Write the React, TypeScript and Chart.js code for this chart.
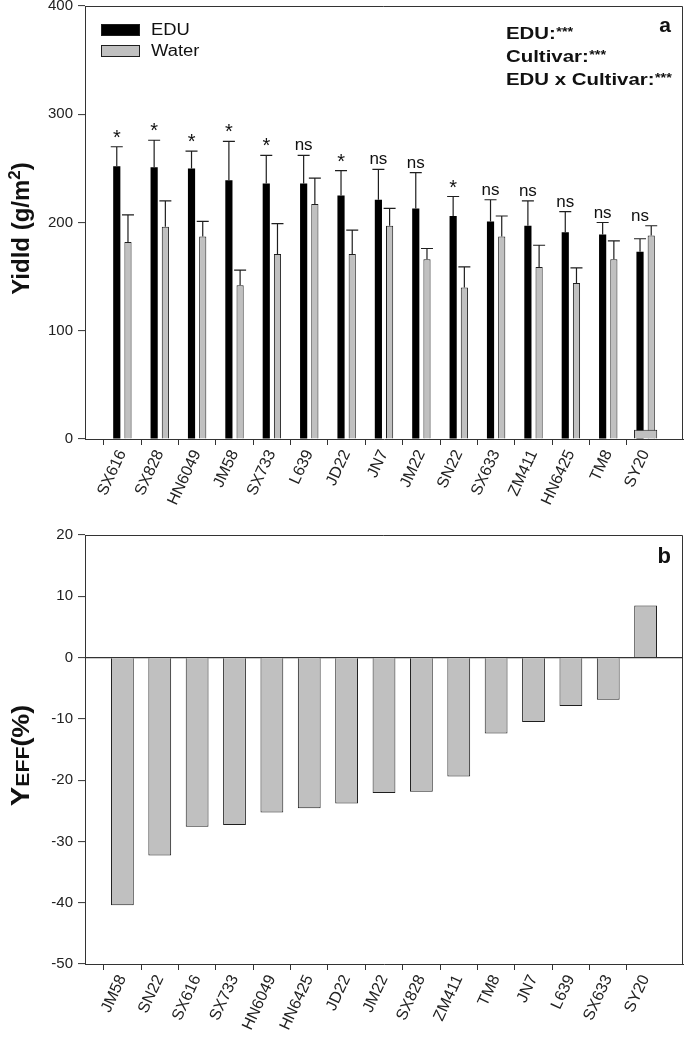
import React, { useEffect, useRef } from 'react';
import { Chart, registerables } from 'chart.js';

Chart.register(...registerables);

// ---------- Data ----------
const cultivarsA = ['SX616', 'SX828', 'HN6049', 'JM58', 'SX733', 'L639', 'JD22', 'JN7', 'JM22', 'SN22', 'SX633', 'ZM411', 'HN6425', 'TM8', 'SY20'];
const eduYield = [252, 251, 250, 239, 236, 236, 225, 221, 213, 206, 201, 197, 191, 189, 173];
const eduErr = [18, 25, 16, 36, 26, 26, 23, 28, 33, 18, 20, 23, 19, 11, 12];
const waterYield = [182, 196, 187, 142, 171, 217, 171, 197, 166, 140, 187, 159, 144, 166, 188];
const waterErr = [25, 24, 14, 14, 28, 24, 22, 16, 10, 19, 19, 20, 14, 17, 9];
const significance = ['*', '*', '*', '*', '*', 'ns', '*', 'ns', 'ns', '*', 'ns', 'ns', 'ns', 'ns', 'ns'];
const boxAtBase = [null, null, null, null, null, null, null, null, null, null, null, null, null, null, 8.5];
const yieldTicks = [0, 100, 200, 300, 400];

const cultivarsB = ['JM58', 'SN22', 'SX616', 'SX733', 'HN6049', 'HN6425', 'JD22', 'JM22', 'SX828', 'ZM411', 'TM8', 'JN7', 'L639', 'SX633', 'SY20'];
const yeff = [-40.4, -32.3, -27.6, -27.3, -25.3, -24.6, -23.8, -22.1, -21.9, -19.4, -12.4, -10.5, -7.9, -6.9, 8.5];
const yeffTicks = [-50, -40, -30, -20, -10, 0, 10, 20];

const annotations = ['EDU:', 'Cultivar:', 'EDU x Cultivar:'];

// ---------- helpers ----------
const FONT = '"Liberation Sans", Arial, Helvetica, sans-serif';
const GRAY = '#c0c0c0';
const INK = '#1e1e1e';
const pad = (arr: any[], fill: any = null) => [fill, ...arr, fill];

const boxPlugin = {
  id: 'boxFrame',
  afterDraw(chart: any) {
    const { ctx, chartArea: a } = chart;
    ctx.save();
    ctx.strokeStyle = '#333';
    ctx.lineWidth = 1;
    ctx.beginPath();
    const t = Math.round(a.top) + 0.5;
    const r = Math.round(a.right) - 0.5;
    ctx.moveTo(Math.round(a.left), t);
    ctx.lineTo(r, t);
    ctx.lineTo(r, Math.round(a.bottom));
    ctx.stroke();
    ctx.restore();
  },
};

function drawRotatedTitle(ctx: any, x: number, midY: number, parts: { t: string; size: number; raise?: number }[], stretch = 1) {
  ctx.save();
  ctx.translate(x, midY);
  ctx.rotate(-Math.PI / 2);
  ctx.scale(stretch, 1);
  let total = 0;
  parts.forEach((p) => {
    ctx.font = `bold ${p.size}px ${FONT}`;
    total += ctx.measureText(p.t).width;
  });
  let cx = -total / 2;
  ctx.fillStyle = '#111';
  ctx.textBaseline = 'alphabetic';
  ctx.textAlign = 'left';
  parts.forEach((p) => {
    ctx.font = `bold ${p.size}px ${FONT}`;
    ctx.fillText(p.t, cx, -(p.raise || 0));
    cx += ctx.measureText(p.t).width;
  });
  ctx.restore();
}

function stretchedText(ctx: any, text: string, x: number, y: number, sx: number) {
  ctx.save();
  ctx.translate(x, y);
  ctx.scale(sx, 1);
  ctx.fillText(text, 0, 0);
  ctx.restore();
}

const topDecorPlugin = {
  id: 'topDecor',
  afterDatasetsDraw(chart: any) {
    const { ctx, chartArea: a } = chart;
    const y = chart.scales.y;
    const edu = chart.getDatasetMeta(0).data;
    const wat = chart.getDatasetMeta(1).data;
    const eErr = pad(eduErr);
    const wErr = pad(waterErr);
    const eVal = chart.data.datasets[0].data;
    const wVal = chart.data.datasets[1].data;
    ctx.save();
    ctx.strokeStyle = INK;
    ctx.lineWidth = 1.2;
    const drawErr = (bar: any, v: number, e: number) => {
      const yt = y.getPixelForValue(v + e);
      const yb = y.getPixelForValue(v);
      ctx.beginPath();
      ctx.moveTo(bar.x, yb);
      ctx.lineTo(bar.x, yt);
      ctx.moveTo(bar.x - 6, yt);
      ctx.lineTo(bar.x + 6, yt);
      ctx.stroke();
      return yt;
    };
    const sig = pad(significance, '');
    for (let i = 0; i < eVal.length; i++) {
      if (eVal[i] == null) continue;
      const t1 = drawErr(edu[i], eVal[i], eErr[i]);
      const t2 = drawErr(wat[i], wVal[i], wErr[i]);
      const top = Math.min(t1, t2);
      ctx.fillStyle = '#111';
      ctx.textAlign = 'center';
      ctx.textBaseline = 'alphabetic';
      if (sig[i] === '*') {
        ctx.font = `20px ${FONT}`;
        ctx.fillText('*', edu[i].x, top - 3);
      } else {
        ctx.font = `17px ${FONT}`;
        ctx.fillText(sig[i], edu[i].x, top - 5);
      }
    }
    // legend
    const lx = a.left + 16;
    const items = [chart.data.datasets[0], chart.data.datasets[1]];
    items.forEach((ds: any, k: number) => {
      const by = a.top + 18 + k * 21;
      ctx.fillStyle = ds.backgroundColor;
      ctx.fillRect(lx, by, 39, 12);
      ctx.strokeStyle = INK;
      ctx.lineWidth = 1;
      ctx.strokeRect(lx + 0.5, by + 0.5, 38, 11);
      ctx.fillStyle = '#111';
      ctx.font = `16px ${FONT}`;
      ctx.textAlign = 'left';
      ctx.textBaseline = 'middle';
      stretchedText(ctx, ds.label, lx + 50, by + 6.5, 1.15);
    });
    // annotations
    ctx.textBaseline = 'alphabetic';
    ctx.textAlign = 'left';
    annotations.forEach((s, k) => {
      const bx = a.left + 421;
      const base = a.top + 33 + k * 23;
      const sx = 1.2;
      ctx.font = `bold 17px ${FONT}`;
      ctx.fillStyle = '#111';
      stretchedText(ctx, s, bx, base, sx);
      const w = ctx.measureText(s).width * sx;
      ctx.font = `bold 12px ${FONT}`;
      stretchedText(ctx, '***', bx + w + 0.5, base - 3, sx);
    });
    ctx.font = `bold 21px ${FONT}`;
    ctx.textAlign = 'right';
    ctx.fillText('a', a.right - 12, a.top + 26);
    ctx.restore();
    drawRotatedTitle(ctx, 29, (a.top + a.bottom) / 2 + 6, [
      { t: 'Yidld (g/m', size: 24 },
      { t: '2', size: 17, raise: 9 },
      { t: ')', size: 24 },
    ]);
  },
};

const bottomDecorPlugin = {
  id: 'bottomDecor',
  afterDatasetsDraw(chart: any) {
    const { ctx, chartArea: a } = chart;
    ctx.save();
    ctx.font = `bold 22px ${FONT}`;
    ctx.fillStyle = '#111';
    ctx.textAlign = 'right';
    ctx.textBaseline = 'alphabetic';
    ctx.fillText('b', a.right - 12, a.top + 28);
    ctx.restore();
    drawRotatedTitle(ctx, 29, (a.top + a.bottom) / 2 + 6, [
      { t: 'Y', size: 26 },
      { t: 'EFF', size: 19 },
      { t: '(%)', size: 24 },
    ], 1.12);
  },
};

const tickFont = { size: 15, family: FONT };
const xTickFont = { size: 16, family: FONT };

function makeXScale(height: number) {
  return {
    type: 'category' as const,
    offset: false,
    grid: {
      display: true,
      drawOnChartArea: false,
      drawTicks: true,
      tickLength: 6,
      tickWidth: 1,
      tickColor: (c: any) => (c.index === 0 || c.index === 16 ? 'rgba(0,0,0,0)' : '#333'),
    },
    border: { display: true, color: '#333', width: 1 },
    ticks: {
      autoSkip: false,
      maxRotation: 65,
      minRotation: 65,
      padding: 2,
      font: xTickFont,
      color: '#222',
    },
    afterFit: (s: any) => {
      s.height = height;
      s.paddingLeft = 0;
      s.paddingRight = 0;
    },
  };
}

function makeYScale(min: number, max: number, ticks: number[], zeroLine: boolean) {
  return {
    min,
    max,
    grid: {
      display: true,
      drawOnChartArea: zeroLine,
      drawTicks: true,
      tickLength: 7,
      tickWidth: 1,
      tickColor: '#333',
      lineWidth: 1.2,
      color: (c: any) => (c.tick && c.tick.value === 0 ? '#333' : 'rgba(0,0,0,0)'),
    },
    border: { display: true, color: '#333', width: 1 },
    ticks: { padding: 5, font: tickFont, color: '#222' },
    afterBuildTicks: (s: any) => {
      s.ticks = ticks.map((v) => ({ value: v }));
    },
    afterFit: (s: any) => {
      s.width = 85;
      s.paddingTop = 0;
      s.paddingBottom = 0;
    },
  };
}

export default function App() {
  const topRef = useRef<HTMLCanvasElement>(null);
  const botRef = useRef<HTMLCanvasElement>(null);

  useEffect(() => {
    const top = new Chart(topRef.current as HTMLCanvasElement, {
      type: 'bar',
      data: {
        labels: pad(cultivarsA, ''),
        datasets: [
          {
            label: 'EDU',
            data: pad(eduYield),
            backgroundColor: '#000',
            borderColor: '#000',
            borderWidth: 0,
            categoryPercentage: 0.6,
            barPercentage: 0.64,
          },
          {
            label: 'Water',
            data: pad(waterYield),
            backgroundColor: GRAY,
            borderColor: INK,
            borderWidth: 1,
            categoryPercentage: 0.6,
            barPercentage: 0.64,
          },
          {
            label: 'base',
            data: pad(boxAtBase),
            backgroundColor: GRAY,
            borderColor: INK,
            borderWidth: 1,
            grouped: false,
            order: -1,
            categoryPercentage: 0.62,
            barPercentage: 1,
          },
        ],
      },
      options: {
        animation: false,
        responsive: true,
        maintainAspectRatio: false,
        layout: { padding: { top: 6, right: 2, left: 0, bottom: 0 } },
        plugins: { legend: { display: false }, tooltip: { enabled: false }, title: { display: false } },
        scales: {
          x: makeXScale(81),
          y: makeYScale(0, 400, yieldTicks, false),
        },
      } as any,
      plugins: [boxPlugin, topDecorPlugin],
    });

    const bot = new Chart(botRef.current as HTMLCanvasElement, {
      type: 'bar',
      data: {
        labels: pad(cultivarsB, ''),
        datasets: [
          {
            label: 'YEFF',
            data: pad(yeff),
            backgroundColor: GRAY,
            borderColor: INK,
            borderWidth: 1,
            categoryPercentage: 0.61,
            barPercentage: 1,
          },
        ],
      },
      options: {
        animation: false,
        responsive: true,
        maintainAspectRatio: false,
        layout: { padding: { top: 15, right: 2, left: 0, bottom: 0 } },
        plugins: { legend: { display: false }, tooltip: { enabled: false }, title: { display: false } },
        scales: {
          x: makeXScale(73),
          y: makeYScale(-50, 20, yeffTicks, true),
        },
      } as any,
      plugins: [boxPlugin, bottomDecorPlugin],
    });

    return () => {
      top.destroy();
      bot.destroy();
    };
  }, []);

  return (
    <div style={{ position: 'absolute', left: 0, top: 0, width: 685, height: 1037, background: '#fff' }}>
      <div style={{ position: 'absolute', left: 0, top: 0, width: 685, height: 520 }}>
        <canvas ref={topRef} style={{ display: 'block' }} />
      </div>
      <div style={{ position: 'absolute', left: 0, top: 520, width: 685, height: 517 }}>
        <canvas ref={botRef} style={{ display: 'block' }} />
      </div>
    </div>
  );
}
